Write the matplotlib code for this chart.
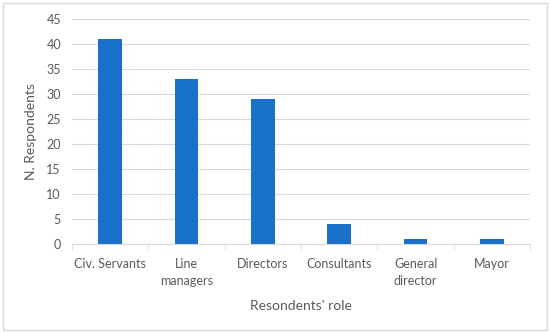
import matplotlib
matplotlib.use("Agg")
import matplotlib.pyplot as plt
from matplotlib.patches import Rectangle

roles = ["Civ. Servants", "Line\nmanagers", "Directors", "Consultants", "General\ndirector", "Mayor"]
counts = [41, 33, 29, 4, 1, 1]
yticks = [0, 5, 10, 15, 20, 25, 30, 35, 40, 45]

plt.rcParams['font.family'] = ['Lato', 'DejaVu Sans']
grey = '#595959'

fig = plt.figure(figsize=(5.5, 3.33), dpi=100)
ax = fig.add_axes([0.131, 0.267, 0.833, 0.676])

x = range(len(roles))
ax.bar(x, counts, width=0.31, color='#1a71c9', zorder=3)

ax.set_xlim(-0.5, len(roles) - 0.5)
ax.set_ylim(0, 45)
ax.set_yticks(yticks)
ax.set_xticks(list(x))
ax.set_xticklabels(roles, fontsize=9, color=grey, linespacing=1.55, va='top')
ax.tick_params(axis='y', labelsize=9, colors=grey, length=0, pad=8)
ax.tick_params(axis='x', length=0, pad=10)
# small ticks at category boundaries
ax.set_xticks([i - 0.5 for i in range(len(roles) + 1)], minor=True)
ax.tick_params(axis='x', which='minor', length=4, color='#d9d9d9', direction='out')

ax.grid(axis='y', color='#d9d9d9', linewidth=0.8, zorder=0)
for s in ['top', 'right', 'left']:
    ax.spines[s].set_visible(False)
ax.spines['bottom'].set_color('#d9d9d9')

ax.set_ylabel("N. Respondents", fontsize=10, color=grey, labelpad=7)
ax.set_xlabel("Resondents' role", fontsize=10, color=grey, labelpad=9)

fig.patches.append(Rectangle((0.005, 0.01), 0.99, 0.98, transform=fig.transFigure,
                             fill=False, edgecolor='#d9d9d9', linewidth=1))

fig.savefig("out.png", dpi=100, facecolor='white')
